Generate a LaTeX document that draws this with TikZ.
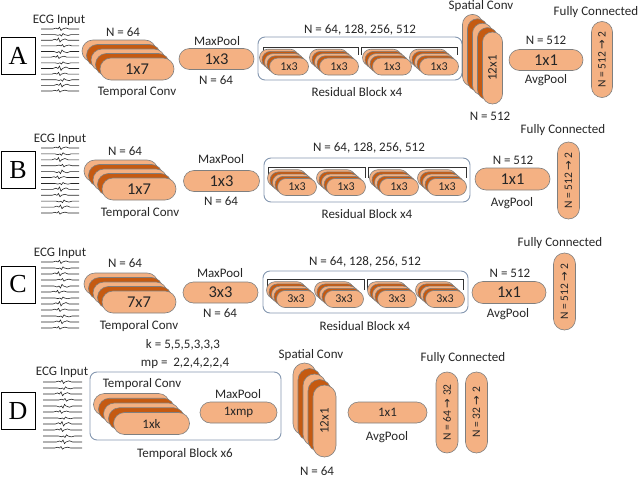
\documentclass[tikz,border=0pt]{standalone}
\usepackage{fontspec}
\setmainfont{Carlito}
\newfontfamily\serifL{Liberation Serif}
\newfontfamily\arr{DejaVu Sans}
\usetikzlibrary{shapes.misc}
\definecolor{lt}{HTML}{F4B183}
\definecolor{dk}{HTML}{C55A11}
\definecolor{edge}{HTML}{7F7F7F}
\definecolor{cont}{HTML}{8497B0}
\definecolor{txt}{HTML}{262626}
\tikzset{
 layer/.style={rounded rectangle, draw=edge, line width=0.6pt, inner sep=0pt, text=txt},
 lbl/.style={inner sep=0pt, text=txt, font=\fontsize{13}{14}\selectfont},
 fbig/.style={font=\fontsize{16.5}{17}\selectfont},
 fmid/.style={font=\fontsize{13}{14}\selectfont},
 fsml/.style={font=\fontsize{12}{13}\selectfont},
 ffc/.style={font=\fontsize{11.5}{12}\selectfont},
 letterbox/.style={draw=black, line width=0.8pt, minimum width=34pt, minimum height=37pt, inner sep=0pt, font=\serifL\fontsize{26}{26}\selectfont},
 container/.style={draw=cont, line width=0.9pt, rounded corners=7pt, inner sep=0pt},
 bracket/.style={draw=black!80, line width=0.8pt},
 ecgline/.style={draw=black!85, line width=0.6pt},
}
% stack of layers: #1 name, #2 cx, #3 cy, #4 length, #5 thickness, #6 dx, #7 dy, #8 text, #9 options
\newcommand\stk[9]{%
 \foreach \i/\c in {4/lt,3/dk,2/lt,1/dk}{
  \node[layer,fill=\c,minimum width=#4pt,minimum height=#5pt,#9] (#1-\i) at ({#2-\i*#6},{#3-\i*#7}) {};
 }
 \node[layer,fill=lt,minimum width=#4pt,minimum height=#5pt,#9] (#1) at (#2,#3) {#8};
}
% ECG traces: #1 x0, #2 x1, #3 ytop, #4 ybottom
\newcommand\ecg[4]{%
 \foreach \k in {0,...,11}{
  \pgfmathsetmacro\yy{#3+\k*(#4-#3)/11}
  \pgfmathsetmacro\am{{1.8,-1.4,2.2,1.4,-2.0,1.6,-1.2,2.4,1.7,-1.5,2.0,1.4}[\k]}
  \pgfmathsetmacro\sh{{0,2,-1,3,1,-2,2,0,-1,3,1,-1}[\k]}
  \pgfmathsetmacro\xm{(#1+#2)/2+\sh}
  \draw[ecgline] (#1,\yy) -- ({\xm-7},\yy) -- ({\xm-4},{\yy-0.5*\am}) -- ({\xm-2},\yy) -- ({\xm-0.5},{\yy-\am}) -- ({\xm+1},{\yy+0.8*\am}) -- ({\xm+2.5},\yy) -- ({\xm+6},{\yy-0.6*\am}) -- ({\xm+9},\yy) -- (#2,\yy);
 }}
\begin{document}
\begin{tikzpicture}[x=1pt,y=-1pt]
\useasboundingbox (0,0) rectangle (640,479);
% ================= Row A =================
\node[letterbox] (lA) at (18,56) {A};
\node[lbl] (ecgA) at (59,20) {ECG Input};
\ecg{41}{79}{29}{91}
\node[lbl] (nA1) at (123,32) {N = 64};
\stk{tcA}{137}{69}{74}{22}{4.5}{4.5}{1x7}{fbig}
\node[lbl] (tclA) at (137,92) {Temporal Conv};
\node[layer,fill=lt,fbig,minimum width=75pt,minimum height=21pt] (mpA) at (216.5,59) {1x3};
\node[lbl] (mplA) at (217,41) {MaxPool};
\node[lbl] (nA2) at (216,80) {N = 64};
\node[container,minimum width=204pt,minimum height=43pt] (resA) at (360,58.5) {};
\draw[bracket] (263,55) -- (263,47) -- (358,47) -- (358,55);
\draw[bracket] (361,55) -- (361,47) -- (457,47) -- (457,55);
\stk{rA1}{289}{66.5}{39}{17}{2.5}{2.2}{1x3}{fsml}
\stk{rA2}{339}{66.5}{39}{17}{2.5}{2.2}{1x3}{fsml}
\stk{rA3}{392}{66.5}{39}{17}{2.5}{2.2}{1x3}{fsml}
\stk{rA4}{439}{66.5}{39}{17}{2.5}{2.2}{1x3}{fsml}
\node[lbl] (nresA) at (360,30) {N = 64, 128, 256, 512};
\node[lbl] (rblA) at (357,92) {Residual Block x4};
\stk{spA}{492.5}{68}{72}{20}{5}{4.4}{12x1}{fmid,rotate=90}
\node[lbl] (splA) at (481,6) {Spatial Conv};
\node[lbl] (nA3) at (490,116) {N = 512};
\node[layer,fill=lt,fbig,minimum width=74pt,minimum height=21pt] (apA) at (546,60) {1x1};
\node[lbl] (nA4) at (546,40) {N = 512};
\node[lbl] (aplA) at (546,80) {AvgPool};
\node[layer,fill=lt,ffc,rotate=90,minimum width=76pt,minimum height=21pt] (fcA) at (602,59.5) {N = 512 {\arr →} 2};
\node[lbl] (fclA) at (596,12) {Fully Connected};
% ================= Row B =================
\node[letterbox] (lB) at (18,170) {B};
\node[lbl] (ecgB) at (60,139) {ECG Input};
\ecg{41}{79}{148}{213}
\node[lbl] (nB1) at (125,151) {N = 64};
\stk{tcB}{139}{189}{74}{22}{4.5}{4.5}{1x7}{fbig}
\node[lbl] (tclB) at (140,213) {Temporal Conv};
\node[layer,fill=lt,fbig,minimum width=76pt,minimum height=21pt] (mpB) at (221.5,181) {1x3};
\node[lbl] (mplB) at (221,159) {MaxPool};
\node[lbl] (nB2) at (221,201) {N = 64};
\node[container,minimum width=206pt,minimum height=44pt] (resB) at (367,180) {};
\draw[bracket] (268,178) -- (268,167) -- (365,167) -- (365,178);
\draw[bracket] (368,178) -- (368,167) -- (466,167) -- (466,178);
\stk{rB1}{297}{187}{39}{17}{2.5}{2.2}{1x3}{fsml}
\stk{rB2}{346}{187}{39}{17}{2.5}{2.2}{1x3}{fsml}
\stk{rB3}{399}{187}{39}{17}{2.5}{2.2}{1x3}{fsml}
\stk{rB4}{447}{187}{39}{17}{2.5}{2.2}{1x3}{fsml}
\node[lbl] (nresB) at (369,148) {N = 64, 128, 256, 512};
\node[lbl] (rblB) at (367,214) {Residual Block x4};
\node[layer,fill=lt,fbig,minimum width=75pt,minimum height=22pt] (apB) at (512.5,179) {1x1};
\node[lbl] (nB4) at (513,160) {N = 512};
\node[lbl] (aplB) at (512,203) {AvgPool};
\node[layer,fill=lt,ffc,rotate=90,minimum width=77pt,minimum height=22pt] (fcB) at (568.5,180.5) {N = 512 {\arr →} 2};
\node[lbl] (fclB) at (563,130) {Fully Connected};
% ================= Row C =================
\node[letterbox] (lC) at (18,284.5) {C};
\node[lbl] (ecgC) at (60,253) {ECG Input};
\ecg{41}{79}{262}{328}
\node[lbl] (nC1) at (125,263) {N = 64};
\stk{tcC}{139}{302}{74}{22}{4.5}{4.5}{7x7}{fbig}
\node[lbl] (tclC) at (139,326) {Temporal Conv};
\node[layer,fill=lt,fbig,minimum width=75pt,minimum height=21pt] (mpC) at (220.5,292.5) {3x3};
\node[lbl] (mplC) at (220,273) {MaxPool};
\node[lbl] (nC2) at (220,313) {N = 64};
\node[container,minimum width=205pt,minimum height=42pt] (resC) at (365.5,292) {};
\draw[bracket] (267,290) -- (267,279) -- (364,279) -- (364,290);
\draw[bracket] (367,290) -- (367,279) -- (463,279) -- (463,290);
\stk{rC1}{296}{299}{39}{17}{2.5}{2.2}{3x3}{fsml}
\stk{rC2}{344}{299}{39}{17}{2.5}{2.2}{3x3}{fsml}
\stk{rC3}{397}{299}{39}{17}{2.5}{2.2}{3x3}{fsml}
\stk{rC4}{445}{299}{39}{17}{2.5}{2.2}{3x3}{fsml}
\node[lbl] (nresC) at (365,262) {N = 64, 128, 256, 512};
\node[lbl] (rblC) at (365,326) {Residual Block x4};
\node[layer,fill=lt,fbig,minimum width=74pt,minimum height=22pt] (apC) at (509,292.5) {1x1};
\node[lbl] (nC4) at (510,273) {N = 512};
\node[lbl] (aplC) at (508,314) {AvgPool};
\node[layer,fill=lt,ffc,rotate=90,minimum width=77pt,minimum height=22pt] (fcC) at (564.5,291.5) {N = 512 {\arr →} 2};
\node[lbl] (fclC) at (560,243) {Fully Connected};
% ================= Row D =================
\node[letterbox] (lD) at (18,411) {D};
\node[lbl] (ecgD) at (62,372) {ECG Input};
\ecg{43}{82}{382}{448}
\node[lbl] (kD) at (183,345) {k = 5,5,5,3,3,3};
\node[lbl] (mpvD) at (185,363) {mp =\ \ 2,2,4,2,2,4};
\node[container,minimum width=191pt,minimum height=68pt] (tbD) at (185.5,406) {};
\node[lbl] (tclD) at (142,384) {Temporal Conv};
\stk{tcD}{151.5}{423.5}{76}{22}{5}{4.75}{1xk}{fmid}
\node[lbl] (mplD) at (238,394) {MaxPool};
\node[layer,fill=lt,fmid,minimum width=77pt,minimum height=21pt] (mpD) at (238.5,412.5) {1xmp};
\node[lbl] (tblD) at (185,454) {Temporal Block x6};
\stk{spD}{324.5}{421}{72}{23}{5}{5.5}{12x1}{fmid,rotate=90}
\node[lbl] (splD) at (311,355) {Spatial Conv};
\node[lbl] (nD3) at (317,471) {N = 64};
\node[layer,fill=lt,fmid,minimum width=79pt,minimum height=21pt] (apD) at (387.5,412.5) {1x1};
\node[lbl] (aplD) at (387,437) {AvgPool};
\node[layer,fill=lt,ffc,rotate=90,minimum width=81pt,minimum height=22pt] (fcD1) at (447,412.5) {N = 64 {\arr →} 32};
\node[layer,fill=lt,ffc,rotate=90,minimum width=81pt,minimum height=22pt] (fcD2) at (476.5,412.5) {N = 32 {\arr →} 2};
\node[lbl] (fclD) at (463,358) {Fully Connected};
\end{tikzpicture}
\end{document}
